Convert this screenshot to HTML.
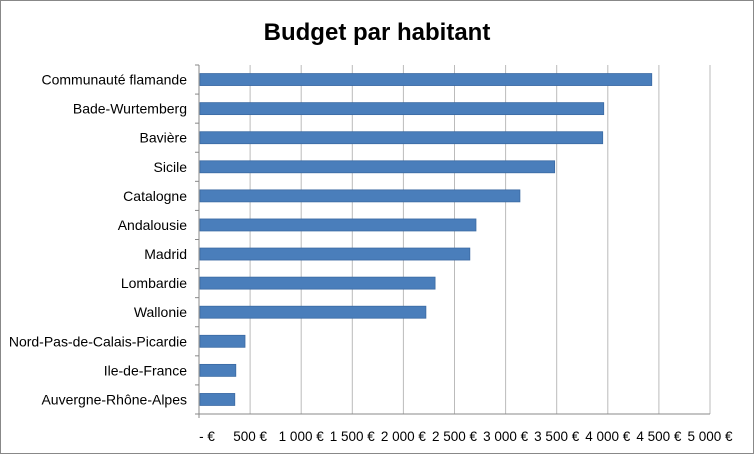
<!DOCTYPE html>
<html><head><meta charset="utf-8"><style>
html,body{margin:0;padding:0;background:#fff;}
svg text{font-family:"Liberation Sans",sans-serif;}
</style></head><body>
<svg width="754" height="454" xmlns="http://www.w3.org/2000/svg">
<rect x="0.5" y="0.5" width="753" height="453" fill="#fff" stroke="#888"/>
<text x="377" y="40" text-anchor="middle" font-size="24" font-weight="bold" fill="#000">Budget par habitant</text>
<g id="grid"></g><g id="bars"></g><g id="labels"></g><g id="ticks"></g>
</svg>
<script>
const categories=["Communauté flamande","Bade-Wurtemberg","Bavière","Sicile","Catalogne","Andalousie","Madrid","Lombardie","Wallonie","Nord-Pas-de-Calais-Picardie","Ile-de-France","Auvergne-Rhône-Alpes"];
const values=[4430,3960,3950,3480,3140,2710,2650,2310,2220,450,360,350];
const tickValues=[0,500,1000,1500,2000,2500,3000,3500,4000,4500,5000];
const tickLabels=["-   €","500 €","1 000 €","1 500 €","2 000 €","2 500 €","3 000 €","3 500 €","4 000 €","4 500 €","5 000 €"];
const NS="http://www.w3.org/2000/svg";
const x0=199,x1=710,yTop=65,yBottom=414;
const xs=v=>x0+(v/5000)*(x1-x0);
const band=(yBottom-yTop)/categories.length;
const yc=i=>yTop+band*(i+0.5);
function mk(t,a,p){const e=document.createElementNS(NS,t);for(const k in a)e.setAttribute(k,a[k]);document.getElementById(p).appendChild(e);return e;}
tickValues.forEach((v,i)=>{
 const l=mk('line',{x1:xs(v),x2:xs(v),y1:yTop,y2:yBottom+(i==0?4:0),stroke:i==0?'#888':'#bbb','stroke-width':1},'grid');
 
 
 const t=mk('text',{x:xs(v)+(i==0?8:0),y:441,'text-anchor':'middle','font-size':13.5,fill:'#000'},'ticks');
 t.textContent=tickLabels[i];
 
 
});
const axis=mk('line',{x1:x0,x2:x1,y1:yBottom,y2:yBottom,stroke:'#888'},'grid');


for(let i=0;i<=categories.length;i++){
 const tk=mk('line',{x1:x0-4,x2:x0,y1:yTop+band*i,y2:yTop+band*i,stroke:'#888'},'grid');
 
 
}
categories.forEach((c,i)=>{
 const r=mk('rect',{x:x0+1,y:yc(i)-6,width:xs(values[i])-x0-1,height:12,fill:'#4a7ebb',stroke:'#3b6aa3','stroke-width':0.8},'bars');
 
 
 const t=mk('text',{x:187,y:yc(i)+5,'text-anchor':'end','font-size':14,fill:'#000'},'labels');
 t.textContent=c;
 
 
});
</script>
</body></html>
